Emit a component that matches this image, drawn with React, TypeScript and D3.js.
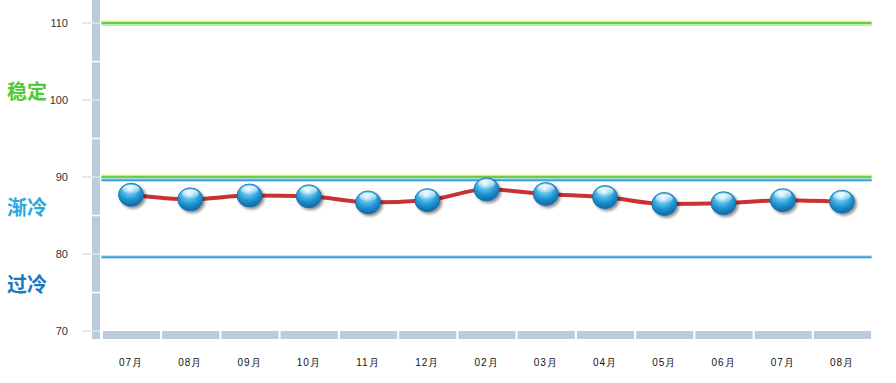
import React from "react";
import * as d3 from "d3";

const categories = ["07月", "08月", "09月", "10月", "11月", "12月", "02月", "03月", "04月", "05月", "06月", "07月", "08月"];
const values = [87.7, 87.1, 87.6, 87.5, 86.7, 87.0, 88.4, 87.8, 87.4, 86.5, 86.6, 87.0, 86.8];
const yTicks = [70, 80, 90, 100, 110];
const yMinor = [70, 75, 80, 85, 90, 95, 100, 105, 110];
const greenLines = [110, 90];
const blueLines = [90, 80];
const zoneLabels = [
  { text: "稳定", value: 101, color: "#55c837" },
  { text: "渐冷", value: 86, color: "#2aa9df" },
  { text: "过冷", value: 76, color: "#1a78c0" },
];

const W = 896, H = 383;
const plotLeft = 101.4, plotRight = 871.6;

export default function App() {
  const x = d3.scaleBand<string>().domain(categories.map((c, i) => i + "")).range([plotLeft, plotRight]);
  const y = d3.scaleLinear().domain([70, 113]).range([331, 0]);
  const bw = x.bandwidth();
  const cx = (i: number) => (x(i + "") as number) + bw / 2;
  const line = d3.line<number>().x((d, i) => cx(i)).y(d => y(d)).curve(d3.curveMonotoneX);
  const yBottom = y(70);
  const pw = plotRight - plotLeft;

  return (
    <svg width={W} height={H} style={{ position: "absolute", left: 0, top: 0, background: "#fff" }}
      fontFamily="Arial, 'Liberation Sans', sans-serif">
      <defs>
        <radialGradient id="ball" cx="45%" cy="25%" r="80%">
          <stop offset="0%" stopColor="#e6f7ff" />
          <stop offset="25%" stopColor="#6cc8f0" />
          <stop offset="60%" stopColor="#1d94d2" />
          <stop offset="100%" stopColor="#0f5f9a" />
        </radialGradient>
        <linearGradient id="hl" x1="0" y1="0" x2="0" y2="1">
          <stop offset="0%" stopColor="#ffffff" stopOpacity="0.9" />
          <stop offset="100%" stopColor="#ffffff" stopOpacity="0.1" />
        </linearGradient>
        <filter id="sh" x="-50%" y="-50%" width="200%" height="200%">
          <feGaussianBlur in="SourceAlpha" stdDeviation="1.5" />
          <feOffset dx="1.5" dy="2" result="o" />
          <feComponentTransfer><feFuncA type="linear" slope="0.45" /></feComponentTransfer>
          <feMerge><feMergeNode /><feMergeNode in="SourceGraphic" /></feMerge>
        </filter>
      </defs>

      {/* Y axis bar */}
      <rect x={92} y={0} width={8} height={yBottom + 8} fill="#bccbdc" />
      {yMinor.map(v => (
        <line key={"m" + v} x1={92} x2={100} y1={y(v)} y2={y(v)} stroke="#fff" strokeWidth={1.5} opacity={v % 10 === 0 ? 0.5 : 1} />
      ))}
      {yTicks.map(v => (
        <g key={"t" + v}>
          <line x1={82} x2={91} y1={y(v)} y2={y(v)} stroke="#d0d0d0" strokeWidth={1} />
          <text x={68} y={y(v)} dy="0.35em" textAnchor="end" fontSize={11} fill="#333">{v}</text>
        </g>
      ))}

      {/* X axis bar segments */}
      {categories.map((c, i) => (
        <rect key={"xb" + i} x={(x(i + "") as number) + 1.5} y={yBottom} width={bw - 2} height={8} fill="#bccbdc" />
      ))}
      {categories.map((c, i) => (
        <text key={"xl" + i} x={cx(i)} y={362} dy="0.35em" textAnchor="middle" fontSize={10} fill="#111"
          letterSpacing={1}>{c}</text>
      ))}

      {/* Threshold lines */}
      {greenLines.map(v => (
        <g key={"g" + v}>
          <rect x={plotLeft} y={y(v) - 2.5} width={pw} height={1.2} fill="#eef58a" />
          <rect x={plotLeft} y={y(v) - 1.3} width={pw} height={2.6} fill="#6ccc48" />
          <rect x={plotLeft} y={y(v) + 1.3} width={pw} height={1.5} fill="#b5ecaa" />
        </g>
      ))}
      {blueLines.map(v => (
        <g key={"b" + v}>
          <rect x={plotLeft} y={y(v) + 1.3} width={pw} height={1} fill="#a9dcf5" />
          <rect x={plotLeft} y={y(v) + 2.2} width={pw} height={1.8} fill="#3d9fdc" />
          <rect x={plotLeft} y={y(v) + 4} width={pw} height={1} fill="#b9e0f6" />
        </g>
      ))}

      {/* Zone labels */}
      {zoneLabels.map(z => (
        <text key={z.text} x={7} y={y(z.value)} dy="0.35em" fontSize={20} fontWeight="bold" fill={z.color}
          fontFamily="'Noto Sans CJK SC', sans-serif">{z.text}</text>
      ))}

      {/* Series line */}
      <path d={line(values) || ""} fill="none" stroke="#c83232" strokeWidth={4} strokeLinejoin="round" />

      {/* Markers */}
      {values.map((v, i) => (
        <g key={"p" + i} filter="url(#sh)">
          <ellipse cx={cx(i)} cy={y(v)} rx={12.5} ry={11.5} fill="url(#ball)" stroke="#176aa6" strokeWidth={0.8} />
          <ellipse cx={cx(i)} cy={y(v) - 5.5} rx={8.5} ry={4.3} fill="url(#hl)" />
        </g>
      ))}
    </svg>
  );
}
